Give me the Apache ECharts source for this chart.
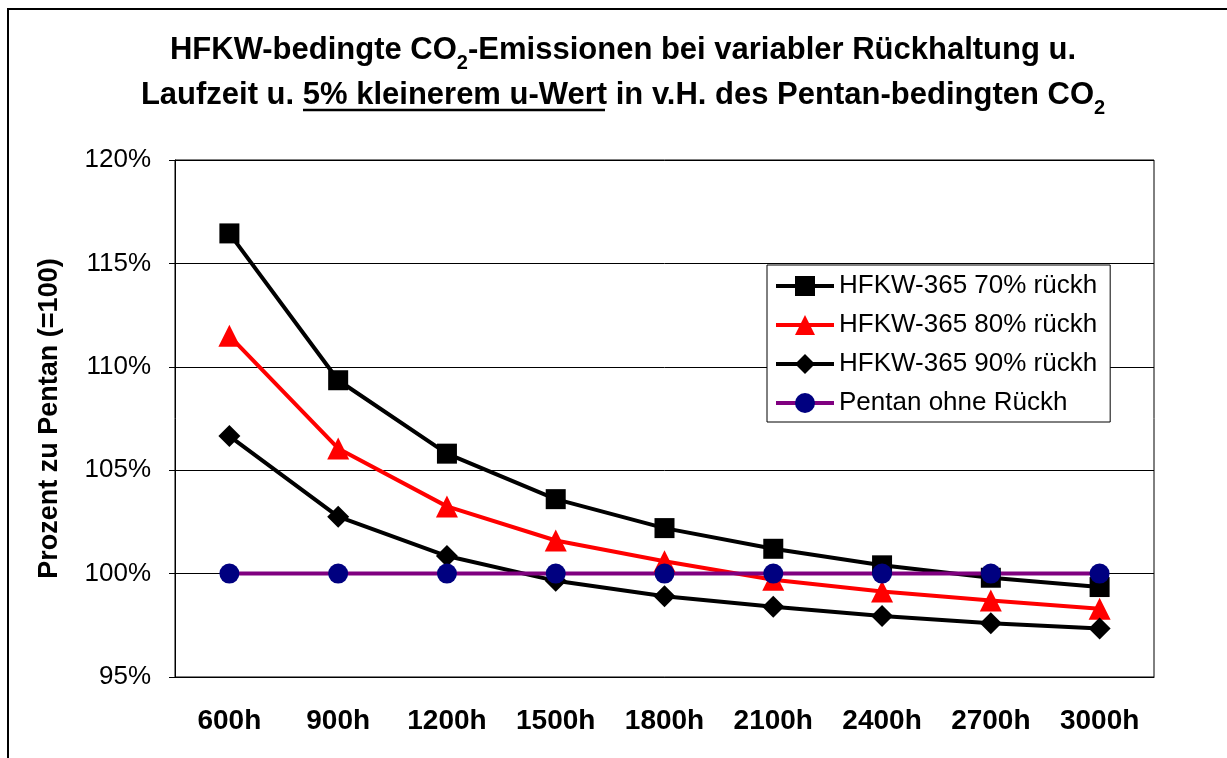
<!DOCTYPE html>
<html>
<head>
<meta charset="utf-8">
<script src="https://cdn.jsdelivr.net/npm/echarts@6/dist/echarts.min.js"></script>
<style>
html,body{margin:0;padding:0;background:#fff;}
#chart{width:1227px;height:758px;}
</style>
</head>
<body>
<div id="chart"></div>
<script>
const categories = ['600h','900h','1200h','1500h','1800h','2100h','2400h','2700h','3000h'];
const seriesNames = ['HFKW-365 70% rückh','HFKW-365 80% rückh','HFKW-365 90% rückh','Pentan ohne Rückh'];
const hfkw70 = [116.45, 109.35, 105.8, 103.6, 102.2, 101.2, 100.4, 99.8, 99.35];
const hfkw80 = [111.5, 106.05, 103.25, 101.6, 100.6, 99.7, 99.13, 98.7, 98.3];
const hfkw90 = [106.65, 102.75, 100.85, 99.65, 98.9, 98.4, 97.95, 97.6, 97.35];
const pentan = [100, 100, 100, 100, 100, 100, 100, 100, 100];
const yTicks = {min: 95, max: 120, interval: 5};

const FONT = '"Liberation Sans", Arial, sans-serif';
const chart = echarts.init(document.getElementById('chart'), null, {renderer: 'canvas'});

function mk(name, data, lineColor, symColor, symbol, size) {
  return {
    name: name, type: 'line', data: data,
    symbol: symbol, symbolSize: size,
    lineStyle: {color: lineColor, width: 4},
    itemStyle: {color: symColor},
    emphasis: {disabled: true},
    animation: false
  };
}

chart.setOption({
  backgroundColor: '#fff',
  animation: false,
  title: {
    left: 623,
    top: 28,
    padding: 0,
    textAlign: 'center',
    text: '{t|HFKW-bedingte CO}{s|2}{t|-Emissionen bei variabler Rückhaltung u.}\n{t|Laufzeit u. 5% kleinerem u-Wert in v.H. des Pentan-bedingten CO}{s|2}',
    textStyle: {
      rich: {
        t: {fontFamily: FONT, fontWeight: 'bold', fontSize: 31, color: '#000', lineHeight: 45},
        s: {fontFamily: FONT, fontWeight: 'bold', fontSize: 20, color: '#000', lineHeight: 36, verticalAlign: 'bottom'}
      }
    }
  },
  graphic: [
    {type: 'rect', shape: {x: 8, y: 9, width: 1400, height: 1000}, style: {fill: 'none', stroke: '#000', lineWidth: 2}, silent: true},
    {type: 'line', shape: {x1: 303, y1: 110, x2: 605, y2: 110}, style: {stroke: '#000', lineWidth: 2.5}, silent: true}
  ],
  legend: {
    orient: 'vertical',
    left: 767, top: 265,
    padding: [8, 13, 6, 7],
    itemGap: 13,
    itemWidth: 58, itemHeight: 25,
    borderColor: '#000', borderWidth: 1,
    backgroundColor: '#fff',
    lineStyle: {width: 4},
    textStyle: {fontFamily: FONT, fontSize: 26, color: '#000'},
    data: seriesNames
  },
  grid: {left: 175, top: 160, right: 73, bottom: 81, show: true, borderColor: '#000', borderWidth: 1},
  xAxis: {
    type: 'category', data: categories, boundaryGap: true,
    axisLine: {lineStyle: {color: '#000', width: 1}},
    axisTick: {show: false},
    axisLabel: {fontFamily: FONT, fontWeight: 'bold', fontSize: 28, color: '#000', margin: 30}
  },
  yAxis: {
    type: 'value', min: yTicks.min, max: yTicks.max, interval: yTicks.interval,
    name: 'Prozent zu Pentan (=100)', nameLocation: 'middle', nameGap: 112,
    nameTextStyle: {fontFamily: FONT, fontWeight: 'bold', fontSize: 27, color: '#000'},
    axisLine: {show: true, lineStyle: {color: '#000', width: 1}},
    axisTick: {show: true, length: 6, lineStyle: {color: '#000'}},
    splitLine: {lineStyle: {color: '#000', width: 1}},
    axisLabel: {fontFamily: FONT, fontSize: 26, color: '#000', margin: 24, formatter: '{value}%'}
  },
  series: [
    mk(seriesNames[0], hfkw70, '#000', '#000', 'rect', 20),
    mk(seriesNames[1], hfkw80, '#ff0000', '#ff0000', 'triangle', 22),
    mk(seriesNames[2], hfkw90, '#000', '#000', 'diamond', 22),
    mk(seriesNames[3], pentan, '#800080', '#000080', 'circle', 20)
  ]
});
</script>
</body>
</html>
